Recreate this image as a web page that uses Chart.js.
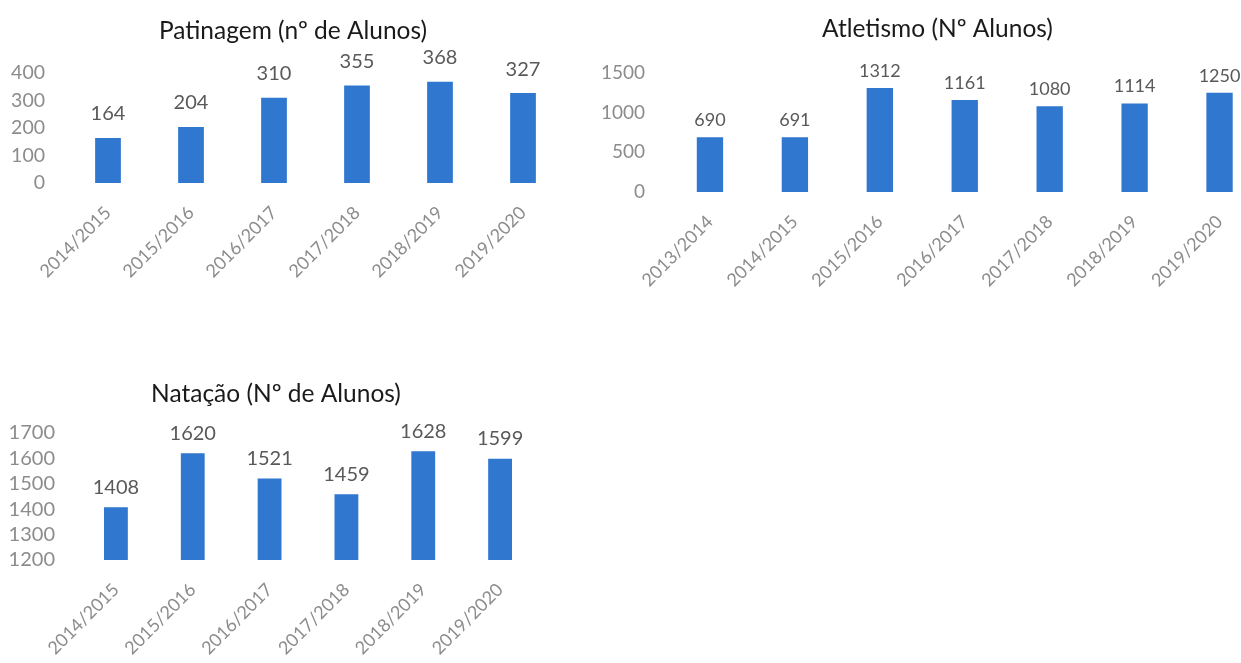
<!DOCTYPE html>
<html lang="pt">
<head>
<meta charset="utf-8">
<title>Alunos por modalidade</title>
<script src="https://cdn.jsdelivr.net/npm/chart.js@4.4.1/dist/chart.umd.min.js"></script>
<style>
  html, body { margin: 0; padding: 0; background: #ffffff; }
  body { width: 1241px; height: 663px; position: relative; overflow: hidden; }
  canvas { position: absolute; }
  #patinagem { left: 0; top: 0; }
  #atletismo { left: 580px; top: 0; }
  #natacao { left: 0; top: 350px; }
</style>
</head>
<body>
<canvas id="patinagem" width="580" height="300"></canvas>
<canvas id="atletismo" width="700" height="310"></canvas>
<canvas id="natacao" width="560" height="313"></canvas>

<script>
const patinagemAnos = ['2014/2015', '2015/2016', '2016/2017', '2017/2018', '2018/2019', '2019/2020'];
const patinagemAlunos = [164, 204, 310, 355, 368, 327];
const patinagemTicks = [0, 100, 200, 300, 400];

const atletismoAnos = ['2013/2014', '2014/2015', '2015/2016', '2016/2017', '2017/2018', '2018/2019', '2019/2020'];
const atletismoAlunos = [690, 691, 1312, 1161, 1080, 1114, 1250];
const atletismoTicks = [0, 500, 1000, 1500];

const natacaoAnos = ['2014/2015', '2015/2016', '2016/2017', '2017/2018', '2018/2019', '2019/2020'];
const natacaoAlunos = [1408, 1620, 1521, 1459, 1628, 1599];
const natacaoTicks = [1200, 1300, 1400, 1500, 1600, 1700];

const FONTE = "Lato, 'Open Sans', sans-serif";
const AZUL = '#2f77cf';

// escreve o valor por cima de cada barra
const rotulosValores = {
    id: 'rotulosValores',
    afterDatasetsDraw(chart, args, opts) {
        const ctx = chart.ctx;
        const meta = chart.getDatasetMeta(0);
        const valores = chart.data.datasets[0].data;
        ctx.save();
        ctx.font = opts.size + 'px ' + FONTE;
        ctx.fillStyle = '#595959';
        ctx.textAlign = 'center';
        ctx.textBaseline = 'middle';
        meta.data.forEach(function (barra, i) {
            ctx.fillText(String(valores[i]), barra.x, barra.y - opts.offset);
        });
        ctx.restore();
    }
};

// desloca o título na horizontal (no original não fica centrado no gráfico)
const desvioTitulo = {
    id: 'desvioTitulo',
    afterLayout(chart, args, opts) {
        if (chart.titleBlock && opts.dx) {
            chart.titleBlock.left += opts.dx;
            chart.titleBlock.right += opts.dx;
        }
    }
};

function criarGrafico(id, cfg) {
    const ctx = document.getElementById(id).getContext('2d');
    return new Chart(ctx, {
        type: 'bar',
        data: {
            labels: cfg.labels,
            datasets: [{
                data: cfg.valores,
                backgroundColor: AZUL,
                borderWidth: 0,
                barPercentage: 0.31,
                categoryPercentage: 1
            }]
        },
        plugins: [rotulosValores, desvioTitulo],
        options: {
            responsive: false,
            animation: false,
            devicePixelRatio: 1,
            layout: { padding: { left: 0, right: cfg.padDir, top: 0, bottom: 0 } },
            plugins: {
                legend: { display: false },
                tooltip: { enabled: false },
                title: {
                    display: true,
                    text: cfg.titulo,
                    color: '#1a1a1a',
                    font: { family: FONTE, size: 24.5, weight: 'normal', lineHeight: 1.2 },
                    padding: { top: cfg.tituloTopo, bottom: cfg.tituloBaixo }
                },
                desvioTitulo: { dx: cfg.dxTitulo },
                rotulosValores: { size: cfg.tamValor, offset: cfg.distValor }
            },
            scales: {
                x: {
                    grid: { display: false, drawTicks: false },
                    border: { display: false },
                    ticks: {
                        color: '#8c8c8c',
                        font: { family: FONTE, size: 18 },
                        minRotation: 45,
                        maxRotation: 45,
                        autoSkip: false,
                        padding: cfg.padX
                    },
                    afterFit: function (scale) {
                        scale.height = cfg.alturaX;
                        scale.paddingLeft = 0;
                        scale.paddingRight = 0;
                    }
                },
                y: {
                    min: cfg.ticks[0],
                    max: cfg.ticks[cfg.ticks.length - 1],
                    grid: { display: false, drawTicks: false },
                    border: { display: false },
                    ticks: {
                        color: '#8c8c8c',
                        font: { family: FONTE, size: cfg.tamY },
                        padding: cfg.padY,
                        autoSkip: false,
                        callback: function (valor) { return String(valor); }
                    },
                    afterBuildTicks: function (scale) {
                        scale.ticks = cfg.ticks.map(function (v) { return { value: v }; });
                    },
                    afterFit: function (scale) {
                        scale.width = cfg.larguraY;
                        scale.paddingTop = 0;
                        scale.paddingBottom = 0;
                    }
                }
            }
        }
    });
}

criarGrafico('patinagem', {
    labels: patinagemAnos, valores: patinagemAlunos, ticks: patinagemTicks,
    titulo: 'Patinagem (nº de Alunos)', tituloTopo: 16, tituloBaixo: 27.6, dxTitulo: 10.75,
    padDir: 15.5, larguraY: 66.5, padY: 21.5, tamY: 19.5,
    alturaX: 117, padX: 19, tamValor: 20, distValor: 24
});

criarGrafico('atletismo', {
    labels: atletismoAnos, valores: atletismoAlunos, ticks: atletismoTicks,
    titulo: 'Atletismo (Nº Alunos)', tituloTopo: 14, tituloBaixo: 29.6, dxTitulo: 16.5,
    padDir: 18, larguraY: 87.5, padY: 22.5, tamY: 19,
    alturaX: 118, padX: 19, tamValor: 18, distValor: 17
});

criarGrafico('natacao', {
    labels: natacaoAnos, valores: natacaoAlunos, ticks: natacaoTicks,
    titulo: 'Natação (Nº de Alunos)', tituloTopo: 29.3, tituloBaixo: 24.3, dxTitulo: 6.75,
    padDir: 21.5, larguraY: 77.5, padY: 22.5, tamY: 20,
    alturaX: 103, padX: 19, tamValor: 20, distValor: 20
});
</script>
</body>
</html>
